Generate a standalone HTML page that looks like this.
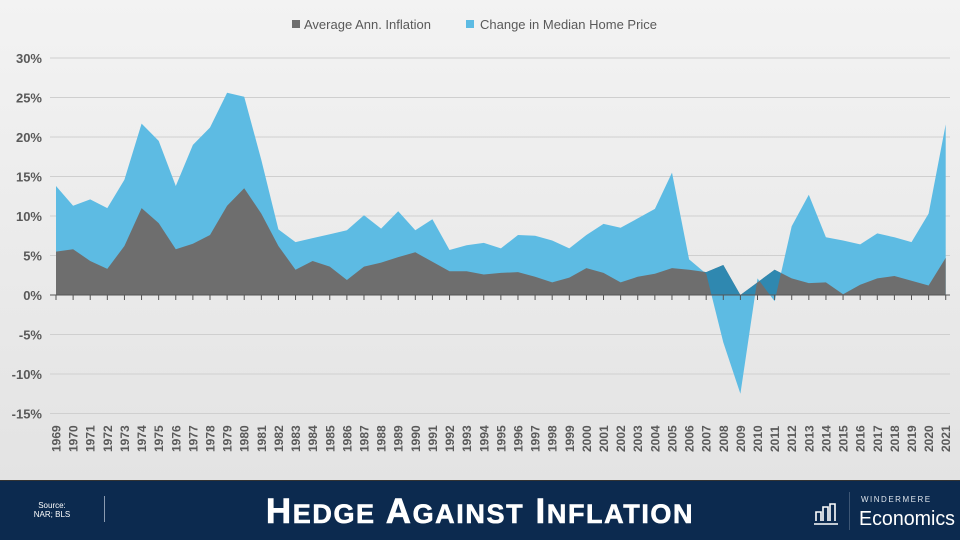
<!DOCTYPE html>
<html><head><meta charset="utf-8"><style>
body{margin:0;width:960px;height:540px;overflow:hidden;font-family:"Liberation Sans",Arial,sans-serif}
</style></head><body>
<svg width="960" height="540" xmlns="http://www.w3.org/2000/svg" style="display:block">
<defs>
<linearGradient id="bg" x1="0" y1="0" x2="0" y2="1"><stop offset="0" stop-color="#f3f3f3"/><stop offset="1" stop-color="#e3e3e3"/></linearGradient>
<clipPath id="gc"><polygon id="gp" points=""/></clipPath>
</defs>
<rect width="960" height="480" fill="url(#bg)"/>
<g id="grid" stroke="#cfcfcf" stroke-width="1"></g>
<g id="ylab" font-size="13" font-weight="bold" fill="#595959" text-anchor="end"></g>
<polygon id="blue" fill="#5dbbe3"/>
<polygon id="gray" fill="#6e6e6e"/>
<polygon id="teal" fill="#2f88b0" clip-path="url(#gc)"/>
<line x1="50" y1="295" x2="950" y2="295" stroke="#555" stroke-width="1"/>
<g id="ticks" stroke="#555"></g>
<g id="xlab" font-size="12" font-weight="bold" fill="#595959"></g>
<g font-size="13" fill="#595959">
<rect x="292" y="20" width="8" height="8" fill="#6e6e6e"/><text x="304" y="29">Average Ann. Inflation</text>
<rect x="466" y="20" width="8" height="8" fill="#5dbbe3"/><text x="480" y="29">Change in Median Home Price</text>
</g>
<rect y="480" width="960" height="60" fill="#0c2a4f"/>
<line x1="0" y1="480.5" x2="960" y2="480.5" stroke="#333" stroke-width="1"/>
<text x="52" y="508" font-size="8" fill="#fff" text-anchor="middle">Source:</text>
<text x="52" y="517" font-size="8" fill="#fff" text-anchor="middle">NAR; BLS</text>
<line x1="104.5" y1="496" x2="104.5" y2="522" stroke="#8a9ab0"/>
<text x="480" y="523" font-size="35" font-weight="bold" fill="#fff" text-anchor="middle" letter-spacing="1.6" stroke="#fff" stroke-width="0.6">H<tspan font-size="27">EDGE</tspan> A<tspan font-size="27">GAINST</tspan> I<tspan font-size="27">NFLATION</tspan></text>
<line x1="849.5" y1="492" x2="849.5" y2="530" stroke="#3d5675"/>
<g fill="none" stroke="#fff" stroke-width="1.6"><path d="M816 521V512H821V521M823 521V507H828V521M830 521V504H835V521"/><line x1="814" y1="524" x2="838" y2="524"/></g>
<text x="861" y="502" font-size="8" fill="#dfe5ec" letter-spacing="1.5">WINDERMERE</text>
<text x="859" y="525" font-size="20" fill="#fff" textLength="96" lengthAdjust="spacingAndGlyphs">Economics</text>
</svg>
<script>
const inf=[5.5,5.8,4.3,3.3,6.2,11.0,9.1,5.8,6.5,7.6,11.3,13.5,10.3,6.2,3.2,4.3,3.6,1.9,3.6,4.1,4.8,5.4,4.2,3.0,3.0,2.6,2.8,2.9,2.3,1.6,2.2,3.4,2.8,1.6,2.3,2.7,3.4,3.2,2.9,3.8,0,1.6,3.2,2.1,1.5,1.6,0.1,1.3,2.1,2.4,1.8,1.2,4.7];
const home=[13.8,11.3,12.1,11.0,14.6,21.7,19.5,13.8,19.0,21.2,25.6,25.1,17.1,8.3,6.7,7.2,7.7,8.2,10.1,8.4,10.6,8.2,9.6,5.7,6.3,6.6,5.9,7.6,7.5,6.9,5.9,7.6,9.0,8.5,9.7,10.9,15.5,4.5,2.7,-6.0,-12.5,2.1,-0.8,8.7,12.7,7.3,6.9,6.4,7.8,7.3,6.7,10.3,21.6];
const X=i=>56+i*17.11, Y=v=>295-v*7.9;
const pts=a=>a.map((v,i)=>X(i).toFixed(1)+","+Y(v).toFixed(1)).join(" ");
const base=X(52).toFixed(1)+",295 "+X(0).toFixed(1)+",295";
document.getElementById('blue').setAttribute('points',pts(home)+" "+base);
document.getElementById('gray').setAttribute('points',pts(inf)+" "+base);
document.getElementById('gp').setAttribute('points',pts(inf)+" "+base);
document.getElementById('teal').setAttribute('points',pts(home)+" "+X(52).toFixed(1)+",0 "+X(0).toFixed(1)+",0");
const ns="http://www.w3.org/2000/svg";
const g=document.getElementById('grid'),yl=document.getElementById('ylab'),tk=document.getElementById('ticks'),xl=document.getElementById('xlab');
for(let v=-15;v<=30;v+=5){const y=Y(v);if(v!=0){const l=document.createElementNS(ns,'line');l.setAttribute('x1',50);l.setAttribute('x2',950);l.setAttribute('y1',y);l.setAttribute('y2',y);g.appendChild(l);}
const t=document.createElementNS(ns,'text');t.setAttribute('x',42);t.setAttribute('y',y+5);t.textContent=v+'%';yl.appendChild(t);}
for(let i=0;i<53;i++){const x=X(i);const l=document.createElementNS(ns,'line');l.setAttribute('x1',x);l.setAttribute('x2',x);l.setAttribute('y1',295);l.setAttribute('y2',300);tk.appendChild(l);
const t=document.createElementNS(ns,'text');t.setAttribute('transform','translate('+(x+4.5)+',452) rotate(-90)');t.textContent=1969+i;xl.appendChild(t);}
</script>
</body></html>
